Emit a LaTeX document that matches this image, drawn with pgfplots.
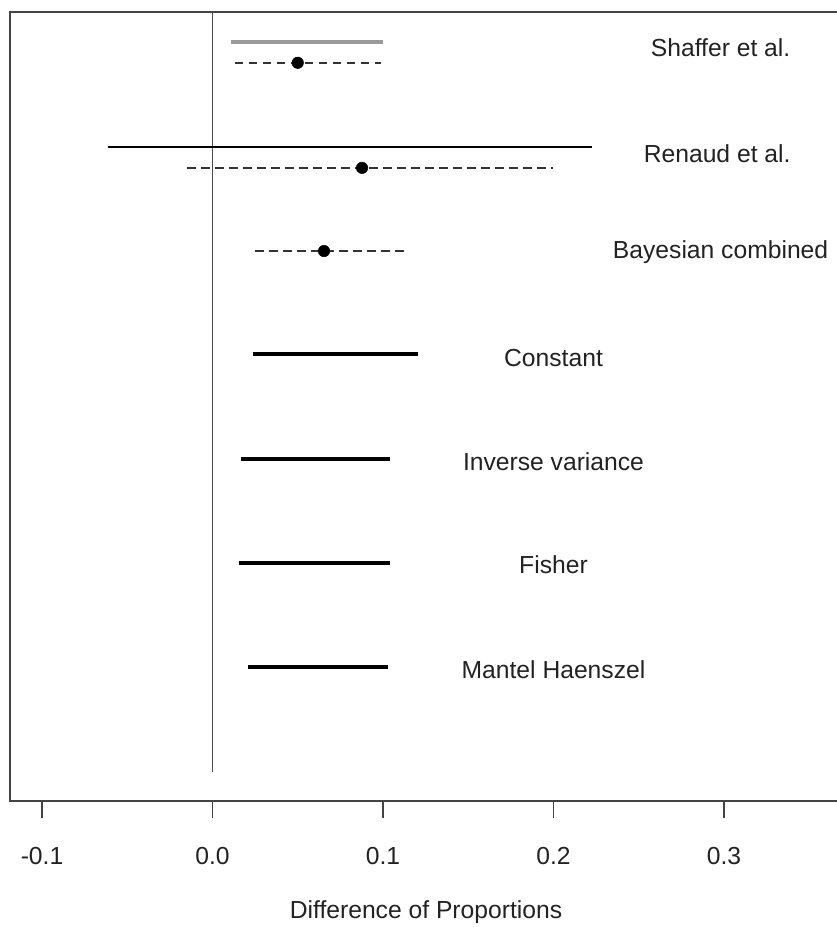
\documentclass[border=0pt]{standalone}
\usepackage{pgfplots}
\pgfplotsset{compat=1.18}
\usepackage{fontspec}
\setmainfont{Liberation Sans}
\definecolor{boxc}{HTML}{444444}
\definecolor{zeroc}{HTML}{4A4A4A}
\definecolor{grayl}{HTML}{9A9A9A}
\definecolor{dashc}{HTML}{333333}
\definecolor{txt}{HTML}{222222}
\begin{document}
\begin{tikzpicture}[font=\fontsize{18.5}{22}\selectfont]
\begin{axis}[
  at={(7.5pt,94.5pt)}, anchor=south west,
  scale only axis, width=624pt, height=591.75pt,
  xmin=-0.11877, xmax=0.36921, ymin=-7.298, ymax=0.2885,
  ytick=\empty,
  xtick={-0.1,0,0.1,0.2,0.3}, xticklabels={-0.1,0.0,0.1,0.2,0.3},
  tick align=outside, major tick length=12.75pt, xtick pos=bottom,
  axis line style={draw=boxc, line width=1.5pt},
  tick style={draw=boxc, line width=1.2pt},
  xticklabel style={font=\fontsize{18.5}{22}\selectfont, text=txt, anchor=center, yshift=-28.5pt},
  xlabel={Difference of Proportions},
  xlabel style={font=\fontsize{18.5}{22}\selectfont, text=txt, at={(axis description cs:0.5,0)}, anchor=center, yshift=-83.25pt},
  clip=false,
]
% zero reference line
\addplot[zeroc, line width=1.4pt] coordinates {(0,0.2885) (0,-7.02)};
% Shaffer et al.
\addplot[grayl, line width=2.6pt] coordinates {(0.011,0) (0.100,0)};
\addplot[dashc, line width=1.7pt, dash pattern=on 6.5pt off 4pt] coordinates {(0.013,-0.2) (0.099,-0.2)};
\addplot[only marks, mark=*, mark size=4.3pt, black] coordinates {(0.050,-0.2)};
% Renaud et al.
\addplot[black, line width=1.6pt] coordinates {(-0.0613,-1.01) (0.2226,-1.01)};
\addplot[dashc, line width=1.7pt, dash pattern=on 6.5pt off 4pt] coordinates {(-0.015,-1.21) (0.1997,-1.21)};
\addplot[only marks, mark=*, mark size=4.3pt, black] coordinates {(0.0877,-1.21)};
% Bayesian combined
\addplot[dashc, line width=1.7pt, dash pattern=on 6.5pt off 4pt] coordinates {(0.0249,-2.01) (0.1141,-2.01)};
\addplot[only marks, mark=*, mark size=4.3pt, black] coordinates {(0.0654,-2.01)};
% Constant
\addplot[black, line width=2.5pt] coordinates {(0.0238,-3.0) (0.1205,-3.0)};
% Inverse variance
\addplot[black, line width=2.5pt] coordinates {(0.0167,-4.01) (0.1041,-4.01)};
% Fisher
\addplot[black, line width=2.5pt] coordinates {(0.0155,-5.01) (0.1041,-5.01)};
% Mantel Haenszel
\addplot[black, line width=2.5pt] coordinates {(0.0208,-6.01) (0.1029,-6.01)};
% labels
\node[text=txt, anchor=center] at (axis cs:0.298,-0.05) {Shaffer et al.};
\node[text=txt, anchor=center] at (axis cs:0.296,-1.07) {Renaud et al.};
\node[text=txt, anchor=center] at (axis cs:0.298,-2.02) {Bayesian combined};
\node[text=txt, anchor=center] at (axis cs:0.2,-3.04) {Constant};
\node[text=txt, anchor=center] at (axis cs:0.2,-4.04) {Inverse variance};
\node[text=txt, anchor=center] at (axis cs:0.2,-5.03) {Fisher};
\node[text=txt, anchor=center] at (axis cs:0.2,-6.04) {Mantel Haenszel};
\end{axis}
\pgfresetboundingbox
\useasboundingbox (0,0) rectangle (627.75pt,695.25pt);
\end{tikzpicture}
\end{document}
